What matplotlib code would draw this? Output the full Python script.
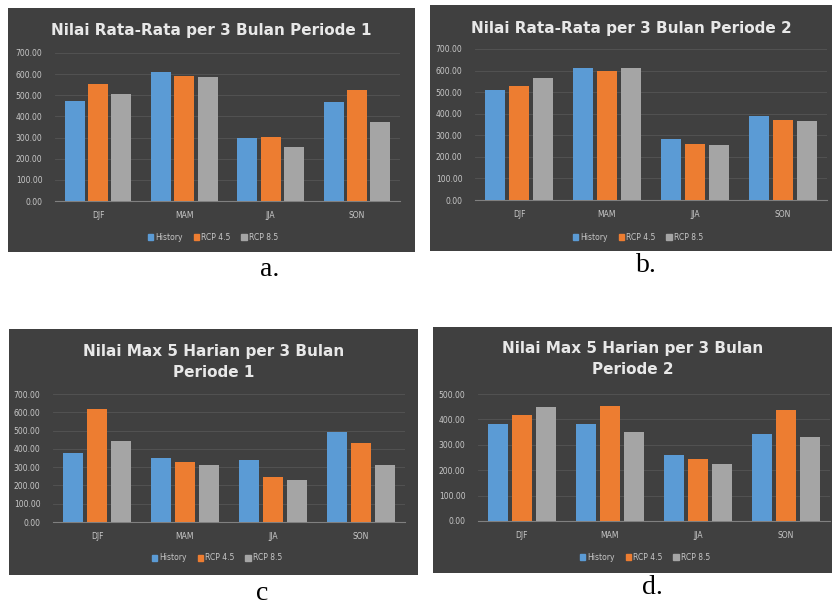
import numpy as np
import matplotlib
matplotlib.use("Agg")
import matplotlib.pyplot as plt
from matplotlib.patches import Rectangle, Patch

# data
musim = ["DJF", "MAM", "JJA", "SON"]
seri = ["History", "RCP 4.5", "RCP 8.5"]

rata_p1_hist = [474, 611, 300, 466]
rata_p1_rcp45 = [553, 592, 305, 526]
rata_p1_rcp85 = [505, 588, 257, 373]

rata_p2_hist = [509, 611, 283, 390]
rata_p2_rcp45 = [529, 596, 260, 371]
rata_p2_rcp85 = [565, 610, 255, 368]

max_p1_hist = [375, 352, 341, 494]
max_p1_rcp45 = [618, 330, 244, 430]
max_p1_rcp85 = [441, 310, 230, 310]

max_p2_hist = [383, 382, 261, 342]
max_p2_rcp45 = [419, 451, 245, 436]
max_p2_rcp85 = [449, 350, 223, 332]

warna = ["#5B9BD5", "#ED7D31", "#A5A5A5"]
bg = "#404040"
W, H = 832, 606

fig = plt.figure(figsize=(W / 100, H / 100), dpi=100)


def px(x0, y0, x1, y1):
    # pixel box (top-left origin) -> figure fraction rect
    return [x0 / W, 1 - y1 / H, (x1 - x0) / W, (y1 - y0) / H]


def panel(kotak, plot_box, judul, judul_y, data, ymax, leg_xy, label, label_xy):
    x0, y0, x1, y1 = kotak
    r = px(x0, y0, x1, y1)
    fig.patches.append(Rectangle((r[0], r[1]), r[2], r[3], transform=fig.transFigure,
                                 facecolor=bg, edgecolor="none", zorder=-5))
    ax = fig.add_axes(px(*plot_box))
    ax.set_zorder(2)
    ax.set_facecolor(bg)
    x = np.arange(len(musim))
    w = 0.23
    for i, vals in enumerate(data):
        ax.bar(x + (i - 1) * 0.27, vals, w, color=warna[i], zorder=3)
    ax.set_xlim(-0.5, 3.5)
    ax.set_ylim(0, ymax)
    ax.set_yticks(np.arange(0, ymax + 1, 100))
    ax.set_yticklabels(["%.2f" % v for v in np.arange(0, ymax + 1, 100)])
    ax.set_xticks(x)
    ax.set_xticklabels(musim)
    ax.tick_params(length=0, labelsize=5.5, colors="#c8c8c8")
    ax.tick_params(axis="y", pad=9)
    ax.tick_params(axis="x", pad=7)
    ax.grid(axis="y", color="#555555", linewidth=0.6, zorder=0)
    for s in ["top", "right", "left"]:
        ax.spines[s].set_visible(False)
    ax.spines["bottom"].set_color("#808080")
    ax.spines["bottom"].set_linewidth(0.8)
    cx = (x0 + x1) / 2
    fig.text(cx / W, 1 - judul_y / H, judul, ha="center", va="center",
             color="#e8e8e8", fontsize=11, fontweight="bold", linespacing=1.45,
             zorder=5)
    handles = [Patch(color=c) for c in warna]
    leg = fig.legend(handles, seri, loc="center",
                     bbox_to_anchor=(leg_xy[0] / W, 1 - leg_xy[1] / H), ncol=3,
                     frameon=False, fontsize=5.5, labelcolor="#c8c8c8",
                     handlelength=0.7, handleheight=0.7, handletextpad=0.3,
                     columnspacing=1.4)
    leg.set_zorder(5)
    fig.text(label_xy[0] / W, 1 - label_xy[1] / H, label, ha="center",
             va="center", fontsize=20, family="Liberation Serif", color="black")


panel((8, 8, 415, 252), (55, 53, 400, 201), "Nilai Rata-Rata per 3 Bulan Periode 1", 31,
      [rata_p1_hist, rata_p1_rcp45, rata_p1_rcp85], 700, (213, 237), "a.", (270, 270))
panel((430, 5, 832, 251), (475, 49, 827, 200), "Nilai Rata-Rata per 3 Bulan Periode 2", 29,
      [rata_p2_hist, rata_p2_rcp45, rata_p2_rcp85], 700, (638, 237), "b.", (646, 266))
panel((9, 329, 418, 575), (53, 394, 405, 522), "Nilai Max 5 Harian per 3 Bulan\nPeriode 1", 362,
      [max_p1_hist, max_p1_rcp45, max_p1_rcp85], 700, (217, 558), "c", (262, 593))
panel((433, 327, 832, 573), (478, 394, 830, 521), "Nilai Max 5 Harian per 3 Bulan\nPeriode 2", 359,
      [max_p2_hist, max_p2_rcp45, max_p2_rcp85], 500, (645, 557), "d.", (652, 588))

fig.savefig("out.png", dpi=100, facecolor="white")
